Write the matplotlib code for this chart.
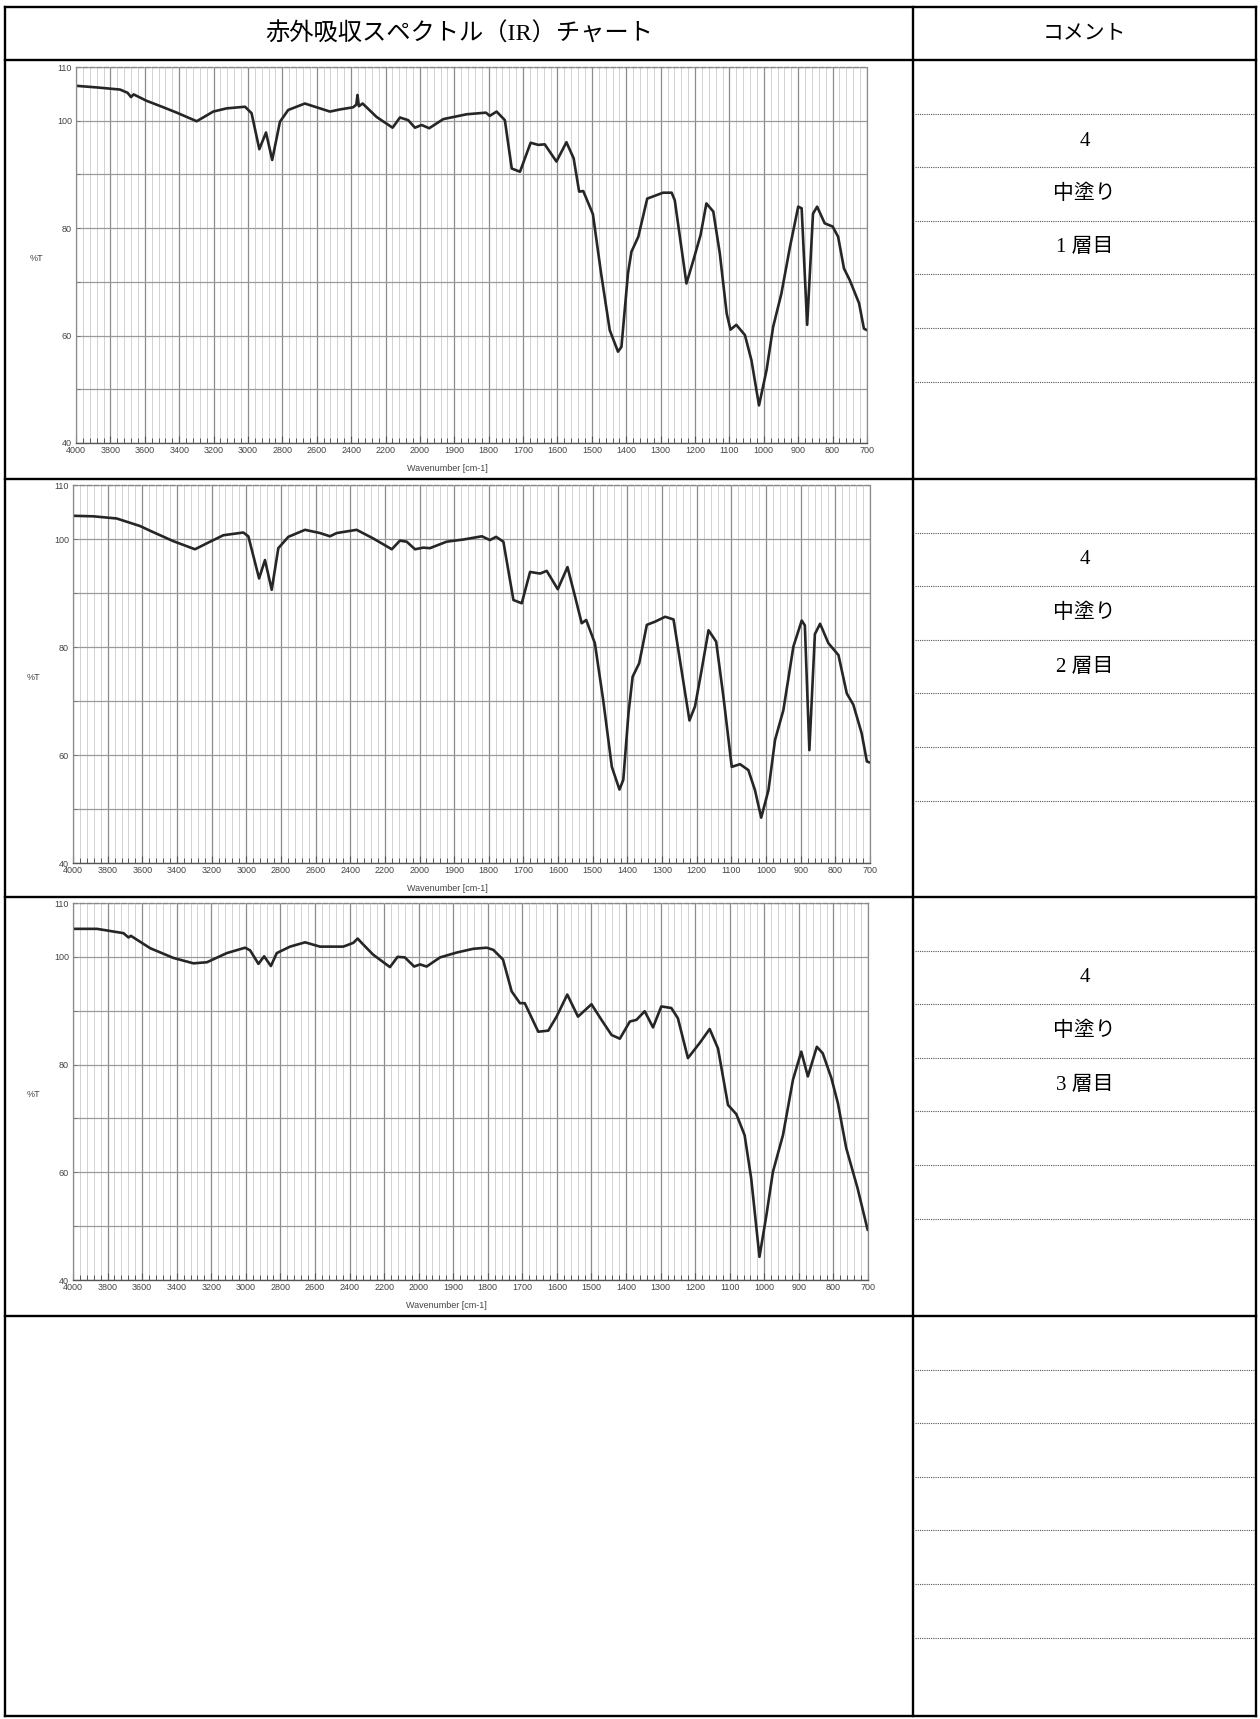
import numpy as np
import matplotlib
matplotlib.use('Agg')
import matplotlib.pyplot as plt
from matplotlib.ticker import FixedLocator, FixedFormatter

W, H = 1260, 1719

# spectra (wavenumber cm-1, %T)
wn1 = [4000, 3880, 3744, 3700, 3680, 3665, 3589, 3500, 3414, 3298, 3202, 3124, 3017, 2979,
       2934, 2895, 2859, 2814, 2766, 2669, 2523, 2465, 2388, 2370, 2363, 2355, 2333, 2252,
       2159, 2116, 2068, 2029, 1995, 1973, 1932, 1864, 1808, 1797, 1777, 1753, 1733, 1709,
       1678, 1656, 1637, 1603, 1574, 1553, 1537, 1525, 1497, 1473, 1448, 1424, 1414, 1395,
       1385, 1365, 1339, 1322, 1293, 1268, 1259, 1225, 1205, 1184, 1167, 1147, 1128, 1108,
       1097, 1080, 1055, 1036, 1014, 992, 973, 949, 924, 900, 890, 874, 857, 845, 823, 800,
       784, 767, 750, 723, 709, 700]
t1 = [106.5, 106.2, 105.8, 105.2, 104.4, 104.9, 103.7, 102.6, 101.5, 99.9, 101.7, 102.3, 102.6, 101.4,
      94.7, 97.8, 92.7, 99.8, 102.0, 103.2, 101.7, 102.1, 102.5, 103.0, 104.8, 102.7, 103.2, 100.7,
      98.7, 100.6, 100.1, 98.7, 99.2, 98.6, 100.3, 101.2, 101.5, 100.9, 101.7, 100.1, 91.1, 90.5,
      95.9, 95.5, 95.6, 92.4, 96.0, 93.0, 86.8, 86.9, 82.6, 71.5, 61.0, 57.0, 57.9, 71.6,
      75.6, 78.4, 85.5, 85.9, 86.6, 86.6, 85.2, 69.7, 74.0, 78.7, 84.6, 83.1, 75.3, 64.1,
      61.1, 62.0, 60.1, 55.4, 47.0, 53.6, 61.6, 67.8, 76.5, 84.0, 83.7, 62.0, 82.7, 84.0, 80.9, 80.3,
      78.4, 72.5, 70.3, 66.0, 61.3, 61.0]

wn2 = [4000, 3883, 3748, 3671, 3613, 3546, 3421, 3296, 3209, 3132, 3017, 2988, 2926, 2892,
       2853, 2815, 2757, 2661, 2574, 2517, 2478, 2363, 2267, 2160, 2113, 2074, 2026, 1989,
       1970, 1922, 1874, 1820, 1797, 1779, 1758, 1729, 1705, 1681, 1652, 1633, 1601, 1573,
       1551, 1532, 1519, 1494, 1470, 1445, 1423, 1412, 1397, 1385, 1366, 1344, 1320, 1291,
       1267, 1221, 1205, 1186, 1166, 1144, 1123, 1099, 1075, 1051, 1032, 1014, 993, 974,
       950, 921, 897, 888, 875, 859, 844, 820, 791, 767, 748, 724, 709, 700]
t2 = [104.3, 104.2, 103.8, 103.0, 102.4, 101.4, 99.6, 98.1, 99.5, 100.7, 101.2, 100.5, 92.7, 96.1,
      90.6, 98.3, 100.4, 101.7, 101.1, 100.5, 101.1, 101.7, 100.1, 98.1, 99.7, 99.5, 98.1, 98.4,
      98.3, 99.5, 99.9, 100.5, 99.8, 100.4, 99.5, 88.7, 88.1, 93.9, 93.6, 94.1, 90.7, 94.8,
      89.3, 84.4, 85.0, 80.7, 70.2, 57.8, 53.6, 55.4, 67.7, 74.5, 77.0, 84.1, 84.7, 85.6,
      85.1, 66.4, 69.0, 75.7, 83.1, 81.0, 70.8, 57.8, 58.3, 57.2, 53.5, 48.4, 53.5, 62.8,
      68.3, 80.1, 84.9, 84.0, 60.9, 82.4, 84.3, 80.7, 78.5, 71.4, 69.3, 64.0, 58.8, 58.6]

wn3 = [4000, 3861, 3708, 3679, 3665, 3553, 3419, 3303, 3225, 3110, 3004, 2975, 2927, 2894,
       2855, 2821, 2744, 2657, 2571, 2436, 2378, 2353, 2330, 2263, 2166, 2122, 2080, 2026,
       1996, 1977, 1938, 1890, 1842, 1803, 1784, 1756, 1731, 1707, 1693, 1654, 1625, 1601,
       1570, 1539, 1500, 1471, 1442, 1418, 1389, 1370, 1346, 1322, 1298, 1269, 1250, 1221,
       1187, 1158, 1134, 1105, 1081, 1057, 1038, 1014, 994, 975, 946, 917, 893, 874, 848,
       831, 806, 787, 763, 730, 701]
t3 = [105.2, 105.2, 104.4, 103.6, 103.9, 101.6, 99.8, 98.8, 99.0, 100.7, 101.7, 101.2, 98.7, 100.1,
      98.3, 100.7, 101.9, 102.7, 101.9, 101.9, 102.6, 103.4, 102.6, 100.4, 98.1, 100.0, 99.9, 98.2,
      98.6, 98.2, 99.9, 100.8, 101.5, 101.7, 101.3, 99.5, 93.6, 91.4, 91.4, 86.1, 86.3, 88.9,
      93.0, 88.9, 91.2, 88.3, 85.5, 84.8, 88.0, 88.3, 89.9, 86.9, 90.8, 90.5, 88.6, 81.2,
      84.0, 86.6, 83.0, 72.5, 70.8, 66.9, 58.9, 44.3, 52.0, 60.1, 66.9, 77.2, 82.4, 77.8, 83.3,
      82.1, 77.5, 72.8, 64.5, 57.0, 49.3]

header_left = '赤外吸収スペクトル（IR）チャート'
header_right = 'コメント'
sample_no = '4'
coat_name = '中塗り'
layer_labels = ['1 層目', '2 層目', '3 層目']

x_major = [4000, 3800, 3600, 3400, 3200, 3000, 2800, 2600, 2400, 2200, 2000, 1900, 1800,
           1700, 1600, 1500, 1400, 1300, 1200, 1100, 1000, 900, 800, 700]
y_ticks = [40, 50, 60, 70, 80, 90, 100, 110]
y_ticklabels = ['40', '', '60', '', '80', '', '100', '110']


# instrument axis: 4000-2000 at half the scale of 2000-700
def fwd(w):
    w = np.asarray(w, dtype=float)
    return np.where(w <= 2000, w / 100.0, 20 + (w - 2000) / 200.0)


def inv(u):
    u = np.asarray(u, dtype=float)
    return np.where(u <= 20, u * 100.0, 2000 + (u - 20) * 200.0)


x_minor = np.concatenate([np.arange(700, 2000, 20), np.arange(2000, 4001, 40)])

SERIF_JP = ['Liberation Serif', 'Noto Sans CJK JP']

fig = plt.figure(figsize=(W / 100, H / 100), dpi=100)
fig.patch.set_facecolor('white')

# table frame in pixel coordinates
tab = fig.add_axes([0, 0, 1, 1])
tab.set_xlim(0, W)
tab.set_ylim(H, 0)
tab.axis('off')

x_l, x_mid, x_r = 5, 913, 1256
y_top, y_head = 7, 60
row_tops = [60, 479, 897, 1316]
y_bot = 1716
for y in [y_top, y_head] + row_tops[1:] + [y_bot]:
    tab.plot([x_l, x_r], [y, y], color='black', lw=1.7, solid_capstyle='projecting')
for x in [x_l, x_mid, x_r]:
    tab.plot([x, x], [y_top, y_bot], color='black', lw=1.7, solid_capstyle='projecting')
for top in row_tops:
    for k in range(1, 7):
        y = top + k * 53.6
        tab.plot([x_mid + 2, x_r - 1], [y, y], color='#555555', lw=0.8, ls=(0, (1, 1)))

tab.text((x_l + x_mid) / 2, 34, header_left, ha='center', va='center',
         fontsize=17.5, family=SERIF_JP)
tab.text((x_mid + x_r) / 2, 34, header_right, ha='center', va='center',
         fontsize=15, family=SERIF_JP)
for top, layer in zip(row_tops[:3], layer_labels):
    cx = (x_mid + x_r) / 2
    tab.text(cx, top + 81, sample_no, ha='center', va='center', fontsize=15, family=SERIF_JP)
    tab.text(cx, top + 134, coat_name, ha='center', va='center', fontsize=15, family=SERIF_JP)
    tab.text(cx, top + 188, layer, ha='center', va='center', fontsize=15, family=SERIF_JP)

# chart boxes (left, right, top, bottom) in pixels
boxes = [(76, 867, 67, 443), (73, 870, 485, 863), (73, 868, 903, 1280)]
series = [(wn1, t1), (wn2, t2), (wn3, t3)]

for (l, r, t, b), (wn, tr) in zip(boxes, series):
    ax = fig.add_axes([l / W, 1 - b / H, (r - l) / W, (b - t) / H])
    ax.set_xscale('function', functions=(fwd, inv))
    ax.set_xlim(4000, 700)
    ax.set_ylim(40, 110)

    ax.xaxis.set_major_locator(FixedLocator(x_major))
    ax.xaxis.set_major_formatter(FixedFormatter([str(v) for v in x_major]))
    ax.xaxis.set_minor_locator(FixedLocator(x_minor))
    ax.yaxis.set_major_locator(FixedLocator(y_ticks))
    ax.yaxis.set_major_formatter(FixedFormatter(y_ticklabels))

    ax.grid(which='minor', axis='x', color='#d2d2d2', lw=0.7)
    ax.grid(which='major', axis='x', color='#8c8c8c', lw=0.9)
    ax.grid(which='major', axis='y', color='#9a9a9a', lw=0.9)
    ax.set_axisbelow(True)

    ax.tick_params(axis='x', which='both', direction='in', top=False, colors='#555555',
                   labelsize=6.5, pad=2, labelcolor='#444444')
    ax.tick_params(axis='x', which='major', length=5, width=0.8)
    ax.tick_params(axis='x', which='minor', length=3.5, width=0.7)
    ax.tick_params(axis='y', which='major', direction='in', length=3, width=0.7,
                   colors='#777777', labelsize=6.5, pad=3, labelcolor='#444444')
    for lab in ax.get_xticklabels() + ax.get_yticklabels():
        lab.set_family('Liberation Sans')

    for side in ('left', 'right'):
        ax.spines[side].set_color('#8c8c8c')
        ax.spines[side].set_linewidth(0.9)
    ax.spines['bottom'].set_color('#555555')
    ax.spines['bottom'].set_linewidth(1.0)
    ax.spines['top'].set_color('#888888')
    ax.spines['top'].set_linewidth(1.0)
    ax.spines['top'].set_linestyle((0, (3, 2)))

    ax.plot(wn, tr, color='#262626', lw=1.9, solid_joinstyle='round', solid_capstyle='round')

    ax.set_xlabel('Wavenumber [cm-1]', fontsize=6.5, color='#444444', family='Liberation Sans')
    ax.xaxis.set_label_coords(0.47, -0.055)
    ax.set_ylabel('%T', fontsize=6.5, color='#444444', rotation=0, family='Liberation Sans')
    ax.yaxis.set_label_coords(-0.05, 0.48)

fig.savefig('out.png', dpi=100, facecolor='white')
